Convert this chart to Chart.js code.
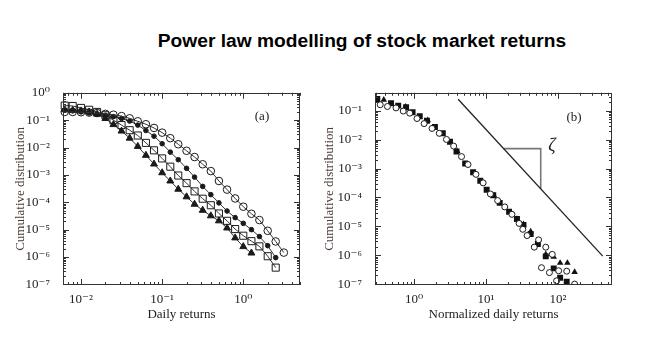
<!DOCTYPE html>
<html><head><meta charset="utf-8">
<script src="https://cdn.jsdelivr.net/npm/chart.js@4/dist/chart.umd.min.js"></script>
<style>
html,body{margin:0;padding:0;background:#fff;width:663px;height:357px;overflow:hidden;position:relative;}
#title{position:absolute;left:62px;width:600px;top:30px;line-height:22px;text-align:center;white-space:nowrap;font:bold 19.2px "Liberation Sans",Arial,sans-serif;color:#000;}
.box{position:absolute;top:80px;}
#boxA{left:0px;}
#boxB{left:312px;}
.lbl{position:absolute;font-family:"Liberation Serif","DejaVu Serif",serif;color:#222;text-align:center;white-space:nowrap;}
</style></head><body>
<div id="title">Power law modelling of stock market returns</div>
<div class="box" id="boxA"><canvas id="cA" width="315" height="255"></canvas></div>
<div class="box" id="boxB"><canvas id="cB" width="320" height="255"></canvas></div>
<div class="lbl" style="left:246px;top:108px;width:32px;font-size:13px;line-height:16px;">(a)</div>
<div class="lbl" style="left:558px;top:109px;width:32px;font-size:13px;line-height:16px;">(b)</div>
<div class="lbl" style="left:540px;top:134px;width:24px;font-size:18px;line-height:22px;font-style:italic;">ζ</div>
<script>
// ---------- Panel (a): cumulative distribution vs daily returns ----------
const aX = [0.0063, 0.0079, 0.01, 0.0126, 0.0158, 0.02, 0.0251, 0.0316, 0.0398, 0.0501,
            0.0631, 0.0794, 0.1, 0.126, 0.158, 0.2, 0.251, 0.316, 0.398, 0.501,
            0.631, 0.794, 1.0, 1.26, 1.58, 2.0, 2.51, 3.16];
const aOpenCircles = [0.20, 0.20, 0.195, 0.19, 0.182, 0.17, 0.158, 0.141, 0.117, 0.091,
                      0.071, 0.052, 0.035, 0.022, 0.0132, 0.0076, 0.0045, 0.00245, 0.00138, 6.0e-4,
                      2.9e-4, 1.38e-4, 6.9e-5, 3.8e-5, 2.24e-5, 9.1e-6, 3.7e-6, 1.45e-6];
const aFilledCircles = [0.24, 0.219, 0.20, 0.182, 0.166, 0.151, 0.135, 0.115, 0.093, 0.066,
                        0.042, 0.026, 0.0138, 0.0068, 0.0036, 0.00174, 8.3e-4, 3.8e-4, 1.9e-4, 9.5e-5,
                        4.8e-5, 2.75e-5, 1.7e-5, 1.0e-5, 5.6e-6, 2.6e-6, 9.5e-7];
const aSquares = [0.34, 0.33, 0.28, 0.24, 0.20, 0.151, 0.10, 0.066, 0.043, 0.0275,
                  0.0148, 0.0079, 0.004, 0.002, 9.5e-4, 5.0e-4, 2.5e-4, 1.35e-4, 7.8e-5, 3.9e-5,
                  2.1e-5, 1.05e-5, 6.0e-6, 3.8e-6, 2.45e-6, 1.07e-6, 4.1e-7];
const aTriangles = [0.24, 0.23, 0.219, 0.20, 0.166, 0.115, 0.069, 0.040, 0.022, 0.011,
                    0.0052, 0.0025, 0.0012, 6.0e-4, 3.0e-4, 1.58e-4, 8.5e-5, 5.1e-5, 3.2e-5, 2.1e-5,
                    1.15e-5, 5.0e-6, 2.4e-6, 1.4e-6];
const aXTicks = [0.01, 0.1, 1];
const aXTickLabels = ['10⁻²', '10⁻¹', '10⁰'];
const aYTicks = [1, 0.1, 0.01, 0.001, 1e-4, 1e-5, 1e-6, 1e-7];
const aYTickLabels = ['10⁰', '10⁻¹', '10⁻²', '10⁻³', '10⁻⁴', '10⁻⁵', '10⁻⁶', '10⁻⁷'];

// ---------- Panel (b): cumulative distribution vs normalized returns ----------
const bCircleX = [0.339, 0.427, 0.562, 0.708, 0.871, 1.10, 1.38, 1.78, 2.24, 2.82,
                  3.55, 4.57, 5.62, 7.24, 9.12, 11.5, 14.5, 18.2, 22.9, 28.8,
                  32.4, 37.2, 46.8, 53.7, 58.9, 67.6, 75.9, 83.2, 95.5, 102, 132, 170];
const bCircleY = [0.162, 0.141, 0.126, 0.098, 0.083, 0.054, 0.036, 0.0245, 0.0166, 0.0102,
                  0.006, 0.0026, 0.00138, 6.3e-4, 3.2e-4, 1.32e-4, 7.8e-5, 4.7e-5, 2.6e-5, 1.26e-5,
                  7.9e-6, 4.8e-6, 1.9e-6, 3.4e-6, 3.7e-7, 1.9e-6, 2.5e-7, 1.07e-6, 1.3e-7, 2.9e-7, 2.8e-7, 1.0e-7];
const bSquareX = [0.309, 0.479, 0.603, 0.776, 0.955, 1.20, 1.51, 1.95, 2.51, 3.16,
                  3.89, 5.13, 6.61, 8.32, 10.2, 12.6, 15.5, 20.9, 26.9, 33.1,
                  41.7, 52.5, 67.6, 87.1, 107, 132];
const bSquareY = [0.257, 0.182, 0.151, 0.132, 0.089, 0.065, 0.045, 0.0275, 0.0166, 0.0085,
                  0.0039, 0.0015, 7.4e-4, 3.8e-4, 1.86e-4, 1.2e-4, 6.5e-5, 3.2e-5, 1.78e-5, 1.12e-5,
                  5.4e-6, 2.45e-6, 9.1e-7, 3.5e-7, 1.66e-7, 1.2e-7];
const bTriX = [0.38, 0.76, 1.55, 3.98, 12.9, 26.9, 33.1, 41.7, 67.6, 87.1, 107, 135, 170];
const bTriY = [0.24, 0.138, 0.047, 0.004, 1.17e-4, 1.78e-5, 1.17e-5, 6.6e-6, 1.07e-6, 8.7e-7, 5.4e-7, 5.4e-7, 2.6e-7];
const bLineX = [4.1, 418];
const bLineY = [0.25, 9.3e-7];
const bSlopeX = [17.6, 57.5, 57.5];
const bSlopeY = [4.9e-3, 4.9e-3, 2.0e-4];
const bXTicks = [1, 10, 100];
const bXTickLabels = ['10⁰', '10¹', '10²'];
const bYTicks = [0.1, 0.01, 0.001, 1e-4, 1e-5, 1e-6, 1e-7];
const bYTickLabels = ['10⁻¹', '10⁻²', '10⁻³', '10⁻⁴', '10⁻⁵', '10⁻⁶', '10⁻⁷'];

const SERIF = '"Liberation Serif","DejaVu Serif",serif';
const INK = '#222';

const framePlugin = {
  id: 'frame',
  afterDatasetsDraw(chart) {
    const {ctx, chartArea: {left, right, top, bottom}, scales: {x, y}} = chart;
    ctx.save();
    ctx.strokeStyle = '#333';
    ctx.lineWidth = 1;
    ctx.strokeRect(Math.round(left) + 0.5, Math.round(top) + 0.5, Math.round(right - left) - 1, Math.round(bottom - top) - 1);
    const ticksFor = (scale, horizontal) => {
      const lo = Math.floor(Math.log10(scale.min)), hi = Math.ceil(Math.log10(scale.max));
      for (let d = lo; d <= hi; d++) {
        for (let m = 1; m < 10; m++) {
          const v = m * Math.pow(10, d);
          if (v < scale.min || v > scale.max) continue;
          const p = Math.round(scale.getPixelForValue(v)) + 0.5;
          const len = m === 1 ? 6 : 3;
          ctx.beginPath();
          if (horizontal) {
            ctx.moveTo(p, bottom); ctx.lineTo(p, bottom - len);
            ctx.moveTo(p, top); ctx.lineTo(p, top + len);
          } else {
            ctx.moveTo(left, p); ctx.lineTo(left + len, p);
            ctx.moveTo(right, p); ctx.lineTo(right - len, p);
          }
          ctx.stroke();
        }
      }
    };
    ticksFor(x, true);
    ticksFor(y, false);
    ctx.restore();
  }
};

function makeOptions(cfg) {
  return {
    responsive: false,
    animation: false,
    devicePixelRatio: 1,
    layout: {padding: {top: 10, right: cfg.padRight, left: 0, bottom: 0}},
    plugins: {legend: {display: false}, tooltip: {enabled: false}},
    elements: {line: {tension: 0}},
    scales: {
      x: {
        type: 'logarithmic', position: 'bottom', min: cfg.xmin, max: cfg.xmax,
        grid: {display: false}, border: {display: false},
        afterBuildTicks: (s) => { s.ticks = cfg.xt.map(v => ({value: v})); },
        afterFit: (s) => { s.height = 50; },
        ticks: {autoSkip: false, maxRotation: 0, padding: -1, color: INK,
                font: {family: SERIF, size: 13},
                callback: (v, i) => cfg.xl[i]},
        title: {display: true, text: cfg.xTitle, color: INK,
                font: {family: SERIF, size: 13}, padding: {top: 0, bottom: 13}}
      },
      y: {
        type: 'logarithmic', position: 'left', min: cfg.ymin, max: cfg.ymax,
        grid: {display: false}, border: {display: false},
        afterBuildTicks: (s) => { s.ticks = cfg.yt.map(v => ({value: v})); },
        afterFit: (s) => { s.width = 63; },
        ticks: {autoSkip: false, padding: 5, color: INK,
                font: {family: SERIF, size: 13},
                callback: (v, i) => cfg.yl[i]},
        title: {display: true, text: 'Cumulative distribution', color: '#4a3b34',
                font: {family: SERIF, size: 13}, padding: {top: cfg.yTitlePad, bottom: 0}}
      }
    }
  };
}

const pts = (xs, ys) => ys.map((v, i) => ({x: xs[i], y: v}));
const lineStyle = {borderColor: '#333', borderWidth: 1, pointBorderColor: '#1a1a1a', pointBorderWidth: 1, clip: 8, fill: false};

new Chart(document.getElementById('cA'), {
  type: 'line',
  data: {
    datasets: [
      Object.assign({label: 'Open circles', data: pts(aX, aOpenCircles), pointStyle: 'circle',
                     pointRadius: 3.8, pointBackgroundColor: 'rgba(0,0,0,0)'}, lineStyle),
      Object.assign({label: 'Filled circles', data: pts(aX, aFilledCircles), pointStyle: 'circle',
                     pointRadius: 2.3, pointBackgroundColor: '#1a1a1a'}, lineStyle),
      Object.assign({label: 'Squares', data: pts(aX, aSquares), pointStyle: 'rect',
                     pointRadius: 5, pointBackgroundColor: 'rgba(0,0,0,0)'}, lineStyle),
      Object.assign({label: 'Triangles', data: pts(aX, aTriangles), pointStyle: 'triangle',
                     pointRadius: 4, pointBackgroundColor: '#1a1a1a'}, lineStyle)
    ]
  },
  options: makeOptions({xmin: 0.006, xmax: 5.0, ymin: 9.5e-8, ymax: 1, xt: aXTicks, xl: aXTickLabels,
                        yt: aYTicks, yl: aYTickLabels, xTitle: 'Daily returns', padRight: 15, yTitlePad: 13}),
  plugins: [framePlugin]
});

new Chart(document.getElementById('cB'), {
  type: 'scatter',
  data: {
    datasets: [
      {label: 'Open circles', data: pts(bCircleX, bCircleY), pointStyle: 'circle', pointRadius: 3,
       pointBackgroundColor: '#fff', pointBorderColor: '#1a1a1a', pointBorderWidth: 1, showLine: false},
      {label: 'Squares', data: pts(bSquareX, bSquareY), pointStyle: 'rect', pointRadius: 4.2,
       pointBackgroundColor: '#111', pointBorderColor: '#111', pointBorderWidth: 0, showLine: false},
      {label: 'Triangles', data: pts(bTriX, bTriY), pointStyle: 'triangle', pointRadius: 3.8,
       pointBackgroundColor: '#111', pointBorderColor: '#111', pointBorderWidth: 0, showLine: false},
      {label: 'Power law', data: pts(bLineX, bLineY), showLine: true, pointRadius: 0,
       borderColor: '#222', borderWidth: 1.3},
      {label: 'Slope', data: pts(bSlopeX, bSlopeY), showLine: true, pointRadius: 0,
       borderColor: '#777', borderWidth: 1.6}
    ]
  },
  options: makeOptions({xmin: 0.287, xmax: 562, ymin: 9.3e-8, ymax: 0.42, xt: bXTicks, xl: bXTickLabels,
                        yt: bYTicks, yl: bYTickLabels, xTitle: 'Normalized daily returns', padRight: 20, yTitlePad: 10}),
  plugins: [framePlugin]
});
</script>
</body></html>
